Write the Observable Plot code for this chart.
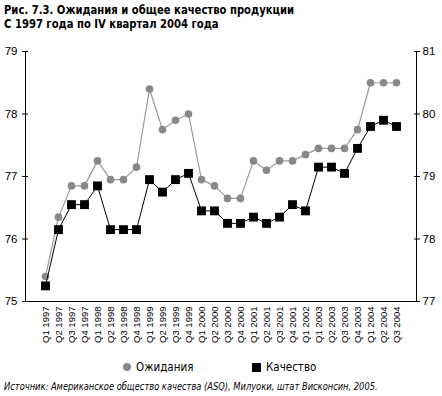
<!DOCTYPE html>
<html>
<head>
<meta charset="utf-8">
<script src="https://cdn.jsdelivr.net/npm/d3@7"></script>
<script src="https://cdn.jsdelivr.net/npm/@observablehq/plot@0.6"></script>
<style>
  html, body { margin: 0; padding: 0; background: #fff; width: 442px; height: 396px; overflow: hidden; }
  #title { font-family: "DejaVu Sans Condensed", sans-serif; font-weight: bold; font-size: 13px; line-height: 14px; padding: 3px 0 0 4px; height: 41px; box-sizing: border-box; color: #000; }
  #title div { transform: scaleX(0.86); transform-origin: 0 0; white-space: nowrap; }
  #legend { position: relative; height: 28px; font-family: "DejaVu Sans Condensed", sans-serif; font-size: 11.5px; color: #000; }
  #legend .item { position: absolute; top: 8px; display: flex; align-items: center; }
  #legend .sw { display: inline-block; margin-right: 5px; }
  #caption { font-family: "DejaVu Sans Condensed", sans-serif; font-style: italic; font-size: 10.5px; padding-left: 4px; color: #000; white-space: nowrap; }
  #caption span { display: inline-block; transform: scaleX(0.88); transform-origin: 0 0; }
  svg { display: block; }
</style>
</head>
<body>
<div id="title"><div id="t1"></div><div id="t2"></div></div>
<div id="chart"></div>
<div id="legend">
  <div class="item" style="left:123px"><span class="sw" style="width:8px;height:8px;border-radius:50%;background:#888"></span><span id="l1"></span></div>
  <div class="item" style="left:252px"><span class="sw" style="width:9px;height:9px;background:#000"></span><span id="l2"></span></div>
</div>
<div id="caption"><span id="cap"></span></div>
<script>
const titleLines = ["Рис. 7.3. Ожидания и общее качество продукции", "С 1997 года по IV квартал 2004 года"];
const quarters = [
  "Q1 1997","Q2 1997","Q3 1997","Q4 1997",
  "Q1 1998","Q2 1998","Q3 1998","Q4 1998",
  "Q1 1999","Q2 1999","Q3 1999","Q4 1999",
  "Q1 2000","Q2 2000","Q3 2000","Q4 2000",
  "Q1 2001","Q2 2001","Q3 2001","Q4 2001",
  "Q1 2002","Q1 2003","Q2 2003","Q3 2003","Q4 2003",
  "Q1 2004","Q2 2004","Q3 2004"
];
// Ожидания (left axis)
const expectations = [75.4, 76.35, 76.85, 76.85, 77.25, 76.95, 76.95, 77.15, 78.4, 77.75, 77.9, 78.0,
  76.95, 76.85, 76.65, 76.65, 77.25, 77.1, 77.25, 77.25, 77.35, 77.45, 77.45, 77.45, 77.75, 78.5, 78.5, 78.5];
// Качество (right axis)
const quality = [77.25, 78.15, 78.55, 78.55, 78.85, 78.15, 78.15, 78.15, 78.95, 78.75, 78.95, 79.05,
  78.45, 78.45, 78.25, 78.25, 78.35, 78.25, 78.35, 78.55, 78.45, 79.15, 79.15, 79.05, 79.45, 79.8, 79.9, 79.8];
const leftTicks = [75, 76, 77, 78, 79];
const rightTicks = [77, 78, 79, 80, 81];
const seriesNames = ["Ожидания", "Качество"];
const captionText = "Источник: Американское общество качества (ASQ), Милуоки, штат Висконсин, 2005.";

document.getElementById("t1").textContent = titleLines[0];
document.getElementById("t2").textContent = titleLines[1];
document.getElementById("l1").textContent = seriesNames[0];
document.getElementById("l2").textContent = seriesNames[1];
document.getElementById("cap").textContent = captionText;

const offset = rightTicks[0] - leftTicks[0];
const data = quarters.map((q, i) => ({q, e: expectations[i], k: quality[i] - offset}));

const chart = Plot.plot({
  width: 442,
  height: 311,
  marginTop: 10,
  marginLeft: 25,
  marginRight: 26,
  marginBottom: 51,
  style: {fontFamily: "Liberation Sans, Arial, sans-serif", fontSize: "11px", background: "white", color: "black"},
  x: {type: "point", domain: quarters, padding: 0.85},
  y: {domain: [75, 79]},
  marks: [
    Plot.frame({anchor: "left", stroke: "black"}),
    Plot.frame({anchor: "right", stroke: "black"}),
    Plot.ruleY([75], {stroke: "black"}),
    Plot.axisY({anchor: "left", ticks: leftTicks, tickSize: 6, dx: 3, tickFormat: () => "", label: null}),
    Plot.axisY({anchor: "left", ticks: leftTicks, tickSize: 0, tickPadding: 8, tickFormat: d => String(d), label: null, fontSize: 11.5}),
    Plot.axisY({anchor: "right", ticks: leftTicks, tickSize: 6, dx: -3, tickFormat: () => "", label: null}),
    Plot.axisY({anchor: "right", ticks: leftTicks, tickSize: 0, tickPadding: 6, tickFormat: d => String(d + offset), label: null, fontSize: 11.5}),
    Plot.axisX({tickRotate: -90, tickSize: 0, tickPadding: 5, label: null, fontSize: 9.5}),
    Plot.line(data, {x: "q", y: "e", stroke: "#999", strokeWidth: 1.2}),
    Plot.dot(data, {x: "q", y: "e", r: 3.8, fill: "#888", stroke: "none"}),
    Plot.line(data, {x: "q", y: "k", stroke: "black", strokeWidth: 1}),
    Plot.dot(data, {x: "q", y: "k", symbol: "square", r: 5, fill: "black", stroke: "none"})
  ]
});
document.getElementById("chart").appendChild(chart);
</script>
</body>
</html>
